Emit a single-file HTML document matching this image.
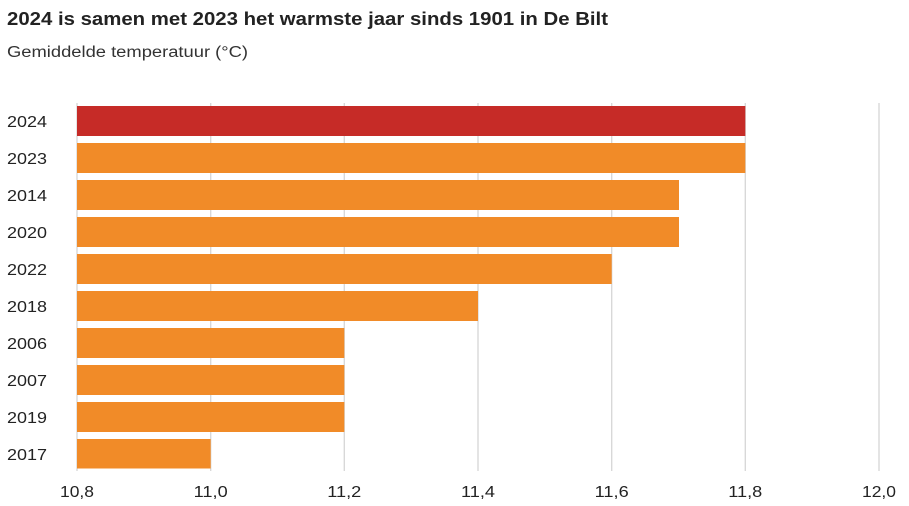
<!DOCTYPE html>
<html><head><meta charset="utf-8"><style>
body{margin:0;background:#fff;width:909px;height:501px;overflow:hidden;font-family:"Liberation Sans",sans-serif;}
</style></head><body>
<svg width="909" height="501" xmlns="http://www.w3.org/2000/svg" font-family="Liberation Sans, sans-serif">
<text x="7" y="25" font-size="18.5" font-weight="bold" fill="#222" textLength="601" lengthAdjust="spacingAndGlyphs">2024 is samen met 2023 het warmste jaar sinds 1901 in De Bilt</text>
<text x="7" y="57" font-size="15.5" fill="#333" textLength="241" lengthAdjust="spacingAndGlyphs">Gemiddelde temperatuur (°C)</text>
<g stroke="#d6d6d6" stroke-width="1.3">
<line x1="77" y1="103" x2="77" y2="471"/>
<line x1="210.7" y1="103" x2="210.7" y2="471"/>
<line x1="344.3" y1="103" x2="344.3" y2="471"/>
<line x1="478" y1="103" x2="478" y2="471"/>
<line x1="611.7" y1="103" x2="611.7" y2="471"/>
<line x1="745.3" y1="103" x2="745.3" y2="471"/>
<line x1="879" y1="103" x2="879" y2="471"/>
</g>
<g>
<rect x="77" y="106" width="668.3" height="30" fill="#c62b27"/>
<rect x="77" y="143" width="668.3" height="30" fill="#f18b28"/>
<rect x="77" y="180" width="602" height="30" fill="#f18b28"/>
<rect x="77" y="217" width="602" height="30" fill="#f18b28"/>
<rect x="77" y="254" width="534.7" height="30" fill="#f18b28"/>
<rect x="77" y="291" width="401" height="30" fill="#f18b28"/>
<rect x="77" y="328" width="267.3" height="30" fill="#f18b28"/>
<rect x="77" y="365" width="267.3" height="30" fill="#f18b28"/>
<rect x="77" y="402" width="267.3" height="30" fill="#f18b28"/>
<rect x="77" y="439" width="133.7" height="29.5" fill="#f18b28"/>
</g>
<g font-size="15.5" fill="#222" lengthAdjust="spacingAndGlyphs">
<text x="7" y="127" textLength="40" lengthAdjust="spacingAndGlyphs">2024</text>
<text x="7" y="164" textLength="40" lengthAdjust="spacingAndGlyphs">2023</text>
<text x="7" y="201" textLength="40" lengthAdjust="spacingAndGlyphs">2014</text>
<text x="7" y="238" textLength="40" lengthAdjust="spacingAndGlyphs">2020</text>
<text x="7" y="275" textLength="40" lengthAdjust="spacingAndGlyphs">2022</text>
<text x="7" y="312" textLength="40" lengthAdjust="spacingAndGlyphs">2018</text>
<text x="7" y="349" textLength="40" lengthAdjust="spacingAndGlyphs">2006</text>
<text x="7" y="386" textLength="40" lengthAdjust="spacingAndGlyphs">2007</text>
<text x="7" y="423" textLength="40" lengthAdjust="spacingAndGlyphs">2019</text>
<text x="7" y="460" textLength="40" lengthAdjust="spacingAndGlyphs">2017</text>
</g>
<g font-size="15.5" fill="#222">
<text x="60" y="497" textLength="34" lengthAdjust="spacingAndGlyphs">10,8</text>
<text x="193.7" y="497" textLength="34" lengthAdjust="spacingAndGlyphs">11,0</text>
<text x="327.3" y="497" textLength="34" lengthAdjust="spacingAndGlyphs">11,2</text>
<text x="461" y="497" textLength="34" lengthAdjust="spacingAndGlyphs">11,4</text>
<text x="594.7" y="497" textLength="34" lengthAdjust="spacingAndGlyphs">11,6</text>
<text x="728.3" y="497" textLength="34" lengthAdjust="spacingAndGlyphs">11,8</text>
<text x="862" y="497" textLength="34" lengthAdjust="spacingAndGlyphs">12,0</text>
</g>
</svg>
</body></html>
